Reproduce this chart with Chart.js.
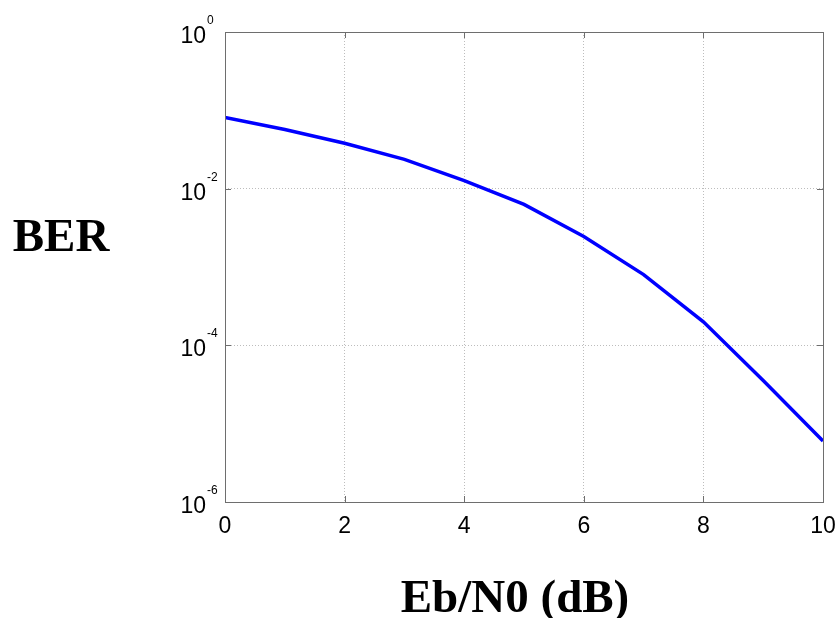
<!DOCTYPE html>
<html lang="en">
<head>
  <meta charset="UTF-8" />
  <title>BER vs Eb/N0</title>
  <script src="https://cdn.jsdelivr.net/npm/chart.js"></script>
  <style>
    html, body { margin: 0; padding: 0; background: #fff; }
    #wrap { width: 837px; height: 618px; }
  </style>
</head>
<body>
  <div id="wrap">
    <canvas id="chartBer" width="837" height="618"></canvas>
  </div>

  <script>
    // data
    const ebN0 = [0, 1, 2, 3, 4, 5, 6, 7, 8, 9, 10];
    const ber = [0.081, 0.057, 0.038, 0.0237, 0.0127, 0.0063, 0.00245, 0.0008, 0.0002, 0.0000356, 0.000006];
    const yTickValues = [1e-6, 1e-4, 1e-2, 1];
    const xTickValues = [0, 2, 4, 6, 8, 10];
    const xTitle = 'Eb/N0 (dB)';
    const yTitle = 'BER';

    const axisColor = '#6e6e6e';
    const tickFont = '23px "Liberation Sans", Arial, sans-serif';
    const expFont = '12px "Liberation Sans", Arial, sans-serif';
    const titleFont = 'bold 47px "Liberation Serif", "Times New Roman", serif';

    // box, inward ticks and labels drawn like matlab does
    const matlabAxes = {
      id: 'matlabAxes',
      afterDraw(chart) {
        const { ctx, chartArea: a, scales: { x, y } } = chart;
        ctx.save();
        ctx.strokeStyle = axisColor;
        ctx.lineWidth = 1;
        ctx.strokeRect(Math.round(a.left) + 0.5, Math.round(a.top) + 0.5,
          Math.round(a.right - a.left), Math.round(a.bottom - a.top));

        const line = (x1, y1, x2, y2) => {
          ctx.beginPath(); ctx.moveTo(x1, y1); ctx.lineTo(x2, y2); ctx.stroke();
        };
        x.ticks.forEach(t => {
          const px = Math.round(x.getPixelForValue(t.value)) + 0.5;
          line(px, a.bottom, px, a.bottom - 6);
          line(px, a.top, px, a.top + 6);
        });
        y.ticks.forEach(t => {
          const py = Math.round(y.getPixelForValue(t.value)) + 0.5;
          line(a.left, py, a.left + 6, py);
          line(a.right, py, a.right - 6, py);
        });

        ctx.fillStyle = '#000';
        ctx.textBaseline = 'alphabetic';

        // x tick labels
        ctx.font = tickFont;
        ctx.textAlign = 'center';
        x.ticks.forEach(t => {
          ctx.fillText(String(t.value), x.getPixelForValue(t.value), a.bottom + 31);
        });

        // y tick labels as 10^n
        y.ticks.forEach(t => {
          const py = y.getPixelForValue(t.value);
          const exp = Math.round(Math.log10(t.value));
          ctx.font = tickFont;
          ctx.textAlign = 'right';
          ctx.fillText('10', a.left - 19, py + 11);
          ctx.font = expFont;
          ctx.textAlign = 'left';
          ctx.fillText(String(exp), a.left - 18, py - 8);
        });

        // axis titles
        ctx.font = titleFont;
        ctx.textAlign = 'center';
        ctx.fillText(yTitle, 61, 251);
        ctx.fillText(xTitle, 515, 612);
        ctx.restore();
      }
    };

    const ctxBer = document.getElementById('chartBer').getContext('2d');
    new Chart(ctxBer, {
      type: 'line',
      data: {
        datasets: [{
          label: yTitle,
          data: ebN0.map((v, i) => ({ x: v, y: ber[i] })),
          borderColor: '#0000ff',
          borderWidth: 3.5,
          pointRadius: 0,
          tension: 0,
          fill: false
        }]
      },
      options: {
        responsive: false,
        animation: false,
        layout: { padding: { left: 225, top: 32, right: 14, bottom: 116 } },
        plugins: {
          legend: { display: false },
          tooltip: { enabled: false }
        },
        scales: {
          x: {
            type: 'linear',
            min: 0,
            max: 10,
            afterBuildTicks: scale => { scale.ticks = xTickValues.map(v => ({ value: v })); },
            ticks: { display: false },
            grid: { color: '#bdbdbd', lineWidth: 1, drawTicks: false },
            border: { display: false, dash: [1, 2] }
          },
          y: {
            type: 'logarithmic',
            min: 1e-6,
            max: 1,
            afterBuildTicks: scale => { scale.ticks = yTickValues.map(v => ({ value: v })); },
            ticks: { display: false },
            grid: { color: '#bdbdbd', lineWidth: 1, drawTicks: false },
            border: { display: false, dash: [1, 2] }
          }
        }
      },
      plugins: [matlabAxes]
    });
  </script>
</body>
</html>
